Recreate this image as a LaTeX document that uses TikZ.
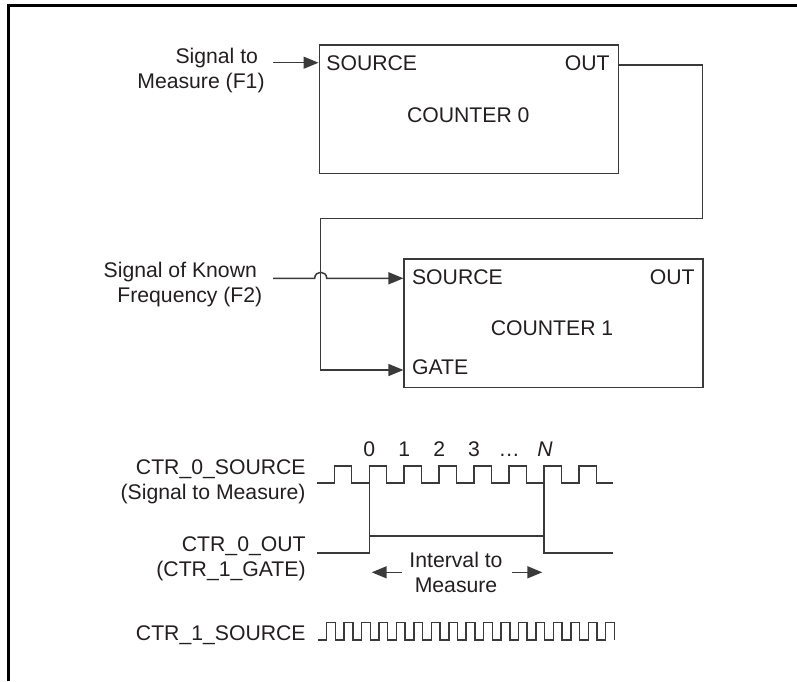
\documentclass[tikz,border=0pt]{standalone}
\usepackage{fontspec}
\setmainfont{Liberation Sans}
\usetikzlibrary{arrows.meta}
\definecolor{linec}{HTML}{3A3A3A}
\definecolor{textc}{HTML}{231F20}
\begin{document}
\begin{tikzpicture}[x=0.5pt,y=-0.5pt,
  wire/.style={draw=linec, line width=0.75pt},
  arr/.style={wire, -{Triangle[length=7.5pt,width=6pt]}},
  wave/.style={draw=linec, line width=0.75pt},
  cbox/.style={draw=linec, line width=0.8pt, minimum width=149.5pt, minimum height=64.1pt, inner sep=0pt},
  lbl/.style={inner sep=0pt, font=\fontsize{10.6}{12.5}\selectfont, text=textc}]
\useasboundingbox (0,0) rectangle (797,681);
% frame
\draw[line width=1.5pt, black] (8,681) -- (8,5.7) -- (797,5.7);

% counters
\node[cbox] (c0) at (468.8,109.2) {};
\node[cbox] (c1) at (553.7,323.3) {};
\node[lbl, anchor=west] (s0) at (326,62.8) {SOURCE};
\node[lbl, anchor=east] (o0) at (610,62.8) {OUT};
\node[lbl] (n0) at (468.3,114.7) {COUNTER 0};
\node[lbl, anchor=west] (s1) at (411.7,277.2) {SOURCE};
\node[lbl, anchor=east] (o1) at (695,277.2) {OUT};
\node[lbl] (n1) at (552,328) {COUNTER 1};
\node[lbl, anchor=west] (g1) at (411.7,366.7) {GATE};

% inputs
\node[lbl, align=right, anchor=east] (f1) at (265,70.4) {Signal to\hspace*{3.3pt}\\Measure (F1)};
\node[lbl, align=right, anchor=east] (f2) at (262.7,284.8) {Signal of Known\hspace*{2.7pt}\\Frequency (F2)};
\coordinate (f1s) at (273,62.7);
\draw[arr] (f1s) -- (f1s -| c0.west);
\coordinate (f2s) at (273,278.3);
\coordinate (hop) at (320.7,278.3);
\draw[arr] (f2s) -- ([xshift=-3pt]hop) .. controls ([xshift=-3pt,yshift=4pt]hop) and ([xshift=3pt,yshift=4pt]hop) .. ([xshift=3pt]hop) -- (f2s -| c1.west);
% out -> gate
\coordinate (outy) at (0,65);
\coordinate (gy) at (0,370);
\coordinate (k1) at (702.7,218.3);
\coordinate (k2) at (320.7,218.3);
\draw[arr] (c0.east |- outy) -| (k1) -- (k2) |- (c1.west |- gy);

% timing labels
\node[lbl, align=right, anchor=east] (t0) at (306,482.2) {CTR\_0\_SOURCE\\(Signal to Measure)};
\node[lbl, align=right, anchor=east] (t1) at (306,559.2) {CTR\_0\_OUT\\(CTR\_1\_GATE)};
\node[lbl, anchor=base east] (t2) at (306,640) {CTR\_1\_SOURCE};

% count labels
\node[lbl, anchor=base] (d0) at (369.3,456.7) {0};
\node[lbl, anchor=base] (d1) at (404.3,456.7) {1};
\node[lbl, anchor=base] (d2) at (439.2,456.7) {2};
\node[lbl, anchor=base] (d3) at (474.1,456.7) {3};
\node[lbl, anchor=base] (d4) at (509.1,456.7) {…};
\node[lbl, anchor=base] (dn) at (545,456.7) {\textit{N}};

% CTR_0_SOURCE waveform
\draw[wave] (317.3,483) \foreach \k in {0,...,7} {
  -- ({334.3+34.95*\k},483) -- ({334.3+34.95*\k},466)
  -- ({351.7+34.95*\k},466) -- ({351.7+34.95*\k},483)} -- (613.3,483);
% CTR_0_OUT waveform
\draw[wave] (317.3,553) -- (369.3,553) -- (369.3,536) -- (544,536) -- (544,553) -- (613.3,553);
\draw[wave] (369.3,466) -- (369.3,536);
\draw[wave] (544,466) -- (544,536);
% CTR_1_SOURCE waveform
\draw[wave] (318.3,640) \foreach \k in {0,...,16} {
  -- ({326.7+17.44*\k},640) -- ({326.7+17.44*\k},622.7)
  -- ({335.4+17.44*\k},622.7) -- ({335.4+17.44*\k},640)};

% interval
\node[lbl, align=center] (iv) at (456,572.8) {Interval to\\Measure};
\coordinate (la) at (401.7,572.3);
\coordinate (lb) at (371.7,572.3);
\coordinate (ra) at (512,572.3);
\coordinate (rb) at (542.3,572.3);
\draw[arr] (la) -- (lb);
\draw[arr] (ra) -- (rb);
\end{tikzpicture}
\end{document}
